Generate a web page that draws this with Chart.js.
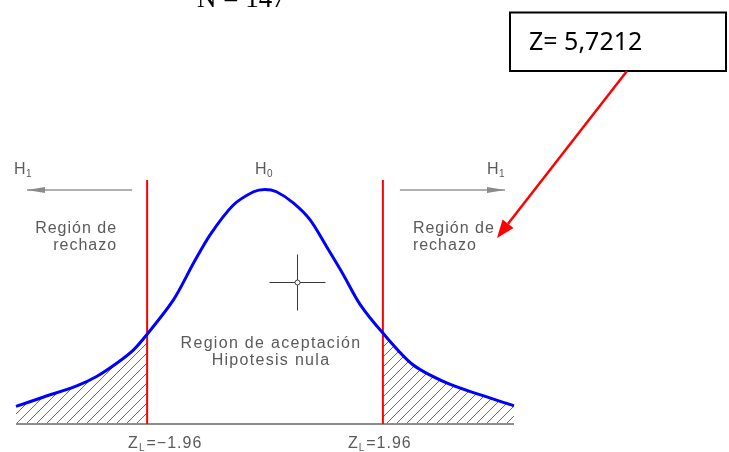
<!DOCTYPE html>
<html>
<head>
<meta charset="utf-8">
<script src="https://cdn.jsdelivr.net/npm/chart.js@4.4.1/dist/chart.umd.min.js"></script>
<style>
  html, body { margin: 0; padding: 0; background: #ffffff; }
  #wrap { width: 729px; height: 452px; position: relative; }
</style>
</head>
<body>
<div id="wrap"><canvas id="c" width="729" height="452"></canvas></div>
<script>
// ---- data ----
const zValues = [-4.14, -3.68, -3.13, -2.80, -2.46, -2.19, -1.96, -1.52, -1.19, -0.91, -0.53, -0.19, 0.0,
                 0.19, 0.47, 0.75, 1.02, 1.30, 1.58, 1.96, 2.46, 3.02, 3.57, 4.14];
const density = [0.030, 0.046, 0.065, 0.081, 0.104, 0.126, 0.153, 0.212, 0.274, 0.323, 0.373, 0.396, 0.400,
                 0.396, 0.377, 0.348, 0.303, 0.255, 0.204, 0.155, 0.101, 0.070, 0.050, 0.031];
const criticalValues = [-1.96, 1.96];
const criticalLabels = ['=\u22121.96', '=1.96'];
const zRange = [-4.14, 4.14];
const densityMax = 0.416;
const statisticText = 'Z= 5,7212';
const titleText = 'N = 147';
const rejectLabel = ['Región de', 'rechazo'];
const acceptLabel = ['Region de aceptación', 'Hipotesis nula'];

// ---- build points ----
const curve = zValues.map((z, i) => ({ x: z, y: density[i] }));
const leftTail = curve.filter(p => p.x <= criticalValues[0]);
const rightTail = curve.filter(p => p.x >= criticalValues[1]);

// hatch pattern
function hatch() {
  const s = 10;
  const pc = document.createElement('canvas');
  pc.width = s; pc.height = s;
  const g = pc.getContext('2d');
  g.strokeStyle = '#6a6a6a';
  g.lineWidth = 1;
  g.beginPath();
  g.moveTo(0, s); g.lineTo(s, 0);
  g.moveTo(-s / 2, s / 2); g.lineTo(s / 2, -s / 2);
  g.moveTo(s / 2, s + s / 2); g.lineTo(s + s / 2, s / 2);
  g.stroke();
  return g.createPattern(pc, 'repeat');
}
const pattern = hatch();

const cadFont = '"Liberation Sans", Arial, sans-serif';
const cadColor = '#5a5a5a';

function cadText(ctx, txt, x, y, align, size, spacing) {
  ctx.save();
  ctx.font = size + 'px ' + cadFont;
  ctx.letterSpacing = (spacing || 0) + 'px';
  ctx.fillStyle = cadColor;
  ctx.textAlign = align;
  ctx.textBaseline = 'alphabetic';
  ctx.fillText(txt, x, y);
  ctx.restore();
}

function hLabel(ctx, sub, x, y) {
  ctx.save();
  ctx.fillStyle = cadColor;
  ctx.textBaseline = 'alphabetic';
  ctx.textAlign = 'left';
  ctx.font = '16px ' + cadFont;
  ctx.fillText('H', x, y);
  const w = ctx.measureText('H').width;
  ctx.font = '10px ' + cadFont;
  ctx.fillText(sub, x + w + 0.5, y + 3);
  ctx.restore();
}

function grayArrow(ctx, x1, x2, y) {
  ctx.save();
  ctx.strokeStyle = '#b0b0b0';
  ctx.fillStyle = '#8a8a8a';
  ctx.lineWidth = 2;
  ctx.beginPath(); ctx.moveTo(x1, y); ctx.lineTo(x2, y); ctx.stroke();
  const dir = Math.sign(x2 - x1);
  ctx.beginPath();
  ctx.moveTo(x2, y);
  ctx.lineTo(x2 - dir * 18, y - 3);
  ctx.lineTo(x2 - dir * 18, y + 3);
  ctx.closePath(); ctx.fill();
  ctx.restore();
}

const annotations = {
  id: 'annotations',
  afterDraw(chart) {
    const ctx = chart.ctx;
    const xs = chart.scales.x, ys = chart.scales.y;
    const xl = xs.getPixelForValue(criticalValues[0]);
    const xr = xs.getPixelForValue(criticalValues[1]);
    const xc = xs.getPixelForValue(0);
    const base = ys.getPixelForValue(0);
    const top = ys.getPixelForValue(densityMax);

    // title (cut off at top)
    ctx.save();
    ctx.font = '27px "Liberation Serif", "Times New Roman", serif';
    ctx.fillStyle = '#000';
    ctx.textAlign = 'left';
    ctx.textBaseline = 'alphabetic';
    ctx.fillText(titleText, 197, 7);
    ctx.restore();

    // H labels and arrows
    hLabel(ctx, '1', 14, top - 6);
    hLabel(ctx, '0', xc - 10, top - 6);
    hLabel(ctx, '1', 487, top - 6);
    grayArrow(ctx, xl - 15, 27, top + 10);
    grayArrow(ctx, xr + 17, 505, top + 10);

    // region labels
    cadText(ctx, rejectLabel[0], xl - 30, top + 53, 'right', 16, 1);
    cadText(ctx, rejectLabel[1], xl - 30, top + 70, 'right', 16, 1);
    cadText(ctx, rejectLabel[0], xr + 30, top + 53, 'left', 16, 1);
    cadText(ctx, rejectLabel[1], xr + 30, top + 70, 'left', 16, 1);
    cadText(ctx, acceptLabel[0], xc + 6, base - 76, 'center', 16, 1.3);
    cadText(ctx, acceptLabel[1], xc + 6, base - 59, 'center', 16, 1.3);

    // Z_L labels
    [xl - 19, xr - 35].forEach((sx, i) => {
      ctx.save();
      ctx.fillStyle = cadColor;
      ctx.textAlign = 'left';
      ctx.textBaseline = 'alphabetic';
      ctx.font = '16px ' + cadFont;
      ctx.letterSpacing = '1px';
      ctx.fillText('Z', sx, base + 24);
      let w = ctx.measureText('Z').width;
      ctx.font = '10px ' + cadFont;
      ctx.fillText('L', sx + w, base + 27);
      w += ctx.measureText('L').width + 1;
      ctx.font = '16px ' + cadFont;
      ctx.fillText(criticalLabels[i], sx + w, base + 24);
      ctx.restore();
    });

    // crosshair cursor
    ctx.save();
    ctx.strokeStyle = '#3a3a3a';
    ctx.lineWidth = 1;
    const cx = 297.5, cy = 282.5;
    ctx.beginPath();
    ctx.moveTo(cx - 28, cy); ctx.lineTo(cx - 2.5, cy);
    ctx.moveTo(cx + 2.5, cy); ctx.lineTo(cx + 28, cy);
    ctx.moveTo(cx, cy - 28); ctx.lineTo(cx, cy - 2.5);
    ctx.moveTo(cx, cy + 2.5); ctx.lineTo(cx, cy + 28);
    ctx.stroke();
    ctx.beginPath(); ctx.arc(cx, cy, 2.5, 0, Math.PI * 2); ctx.stroke();
    ctx.restore();

    // statistic box
    ctx.save();
    ctx.strokeStyle = '#000';
    ctx.lineWidth = 2;
    ctx.strokeRect(510, 12.5, 216, 58.5);
    ctx.font = '25px "Noto Sans", "Open Sans", sans-serif';
    ctx.fillStyle = '#000';
    ctx.textAlign = 'left';
    ctx.textBaseline = 'alphabetic';
    ctx.fillText(statisticText, 529, 50);
    ctx.restore();

    // red arrow from box to right rejection region
    ctx.save();
    ctx.strokeStyle = '#ff0000';
    ctx.fillStyle = '#ff0000';
    ctx.lineWidth = 2.5;
    const ax1 = 627, ay1 = 71, ax2 = 497, ay2 = 238;
    const ang = Math.atan2(ay2 - ay1, ax2 - ax1);
    const hl = 18, hw = 7;
    const bx = ax2 - hl * Math.cos(ang), by = ay2 - hl * Math.sin(ang);
    ctx.beginPath(); ctx.moveTo(ax1, ay1); ctx.lineTo(bx, by); ctx.stroke();
    ctx.beginPath();
    ctx.moveTo(ax2, ay2);
    ctx.lineTo(bx + hw * Math.sin(ang), by - hw * Math.cos(ang));
    ctx.lineTo(bx - hw * Math.sin(ang), by + hw * Math.cos(ang));
    ctx.closePath(); ctx.fill();
    ctx.restore();
  }
};

new Chart(document.getElementById('c'), {
  type: 'line',
  data: {
    datasets: [
      { data: curve, borderColor: '#0000ff', borderWidth: 3, pointRadius: 0, fill: false,
        tension: 0.3, clip: false },
      { data: [{ x: criticalValues[0], y: 0 }, { x: criticalValues[0], y: densityMax }],
        borderColor: '#ff0000', borderWidth: 2, pointRadius: 0, fill: false, clip: false },
      { data: [{ x: criticalValues[1], y: 0 }, { x: criticalValues[1], y: densityMax }],
        borderColor: '#ff0000', borderWidth: 2, pointRadius: 0, fill: false, clip: false },
      { data: [{ x: zRange[0], y: 0 }, { x: zRange[1], y: 0 }],
        borderColor: '#8c8c8c', borderWidth: 2, pointRadius: 0, fill: false, clip: false },
      { data: leftTail, borderWidth: 0, borderColor: 'rgba(0,0,0,0)', backgroundColor: pattern,
        pointRadius: 0, fill: 'origin', tension: 0.3 },
      { data: rightTail, borderWidth: 0, borderColor: 'rgba(0,0,0,0)', backgroundColor: pattern,
        pointRadius: 0, fill: 'origin', tension: 0.3 }
    ]
  },
  options: {
    responsive: false,
    animation: false,
    events: [],
    layout: { padding: { left: 16, right: 215, top: 180, bottom: 28 } },
    scales: {
      x: { type: 'linear', min: zRange[0], max: zRange[1], display: false },
      y: { type: 'linear', min: 0, max: densityMax, display: false }
    },
    plugins: { legend: { display: false }, tooltip: { enabled: false } }
  },
  plugins: [annotations]
});
</script>
</body>
</html>
